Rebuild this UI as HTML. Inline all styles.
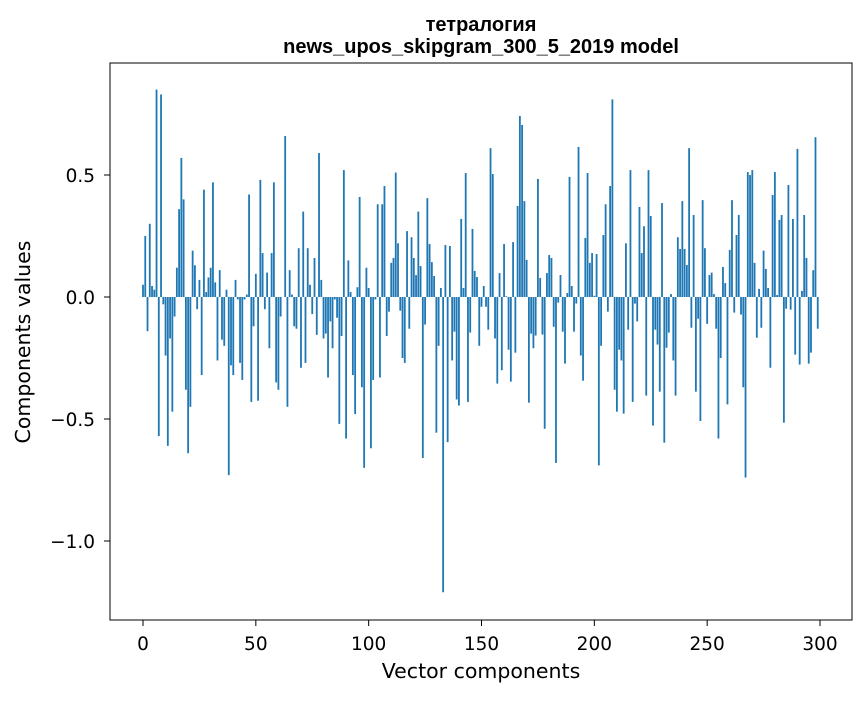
<!DOCTYPE html>
<html><head><meta charset="utf-8"><style>
body{margin:0;background:#fff;}
svg text{font-family:"DejaVu Sans","Liberation Sans",sans-serif;fill:#000;}
svg text.ttl{font-family:"Liberation Sans","DejaVu Sans",sans-serif;}
</style></head><body>
<svg id="chart" width="867" height="696" xmlns="http://www.w3.org/2000/svg">
<rect width="867" height="696" fill="#fff"/>
<text class="ttl" x="481" y="31" text-anchor="middle" font-size="20" font-weight="bold">тетралогия</text>
<text class="ttl" x="481" y="53" text-anchor="middle" font-size="20" font-weight="bold">news_upos_skipgram_300_5_2019 model</text>
<g id="bars"></g>
<g id="axes"></g>
<rect x="110" y="63" width="742" height="557" fill="none" stroke="#000" stroke-width="1"/>
<text x="481" y="678" text-anchor="middle" font-size="20.5">Vector components</text>
<text transform="translate(30,342) rotate(-90)" text-anchor="middle" font-size="20.5">Components values</text>
</svg>
<script>
const values=[0.05,0.25,-0.14,0.30,0.045,0.03,0.85,-0.57,0.83,-0.03,-0.24,-0.61,-0.17,-0.47,-0.08,0.12,0.36,0.57,0.40,-0.38,-0.64,-0.45,0.19,0.13,-0.05,0.07,-0.32,0.44,0.02,0.08,0.12,0.47,0.06,-0.26,0.11,-0.175,-0.2,0.03,-0.73,-0.28,-0.32,0.07,-0.01,-0.27,-0.34,-0.01,0.01,0.42,-0.43,-0.12,
0.095,-0.425,0.48,0.18,-0.05,0.1,-0.21,0.18,0.47,-0.35,-0.38,-0.08,0,0.66,-0.45,0.11,0.01,-0.12,-0.13,0.2,-0.29,0.35,-0.27,0.2,0.05,-0.07,0.16,-0.155,0.59,0.07,-0.17,-0.15,-0.33,-0.1,-0.21,-0.01,-0.085,-0.52,-0.16,0.52,-0.58,0.15,0.02,-0.32,-0.48,0.04,0.41,-0.37,-0.7,0.12,
0.037,-0.62,-0.34,-0.01,0.38,-0.33,0.38,0.455,-0.16,-0.06,0.14,0.16,0.51,0.22,-0.056,-0.25,-0.27,0.27,-0.13,0.245,0.16,0.09,0.35,0.127,-0.66,-0.113,0.405,0.217,0.143,0.086,-0.556,-0.2,0.037,-1.21,0.213,-0.595,0.209,-0.26,-0.142,-0.42,-0.445,0.32,0.037,0.508,-0.43,-0.146,0.279,0.107,0.082,-0.2,
-0.04,0.045,-0.04,-0.134,0.61,0.504,-0.17,-0.355,0.098,-0.3,0.217,0.003,-0.216,-0.347,0.225,-0.228,0.373,0.742,0.705,0.393,0.152,-0.433,-0.15,-0.21,-0.158,0.484,0.078,-0.154,-0.54,0.098,0.172,0.16,-0.122,-0.68,-0.023,0.09,-0.142,-0.273,0.016,0.492,0.045,-0.142,-0.027,0.615,-0.24,-0.343,0.242,0.508,0.14,0.18,
0.005,0.176,-0.69,-0.2,0.254,0.38,-0.06,0.455,0.81,-0.38,-0.47,-0.216,-0.26,-0.478,0.22,-0.134,0.52,-0.43,-0.027,-0.1,0.369,0.18,0.29,-0.404,0.52,0.332,-0.527,-0.134,-0.195,-0.388,0.385,-0.597,-0.208,-0.146,0.012,-0.26,-0.404,0.245,0.197,0.393,0.197,0.131,0.61,-0.126,0.336,-0.388,-0.089,-0.508,0.397,
0.2,-0.11,0.09,0.1,0.012,-0.13,-0.58,-0.25,0.123,0.057,-0.44,0.193,0.397,-0.064,0.254,0.336,-0.072,-0.37,-0.74,0.512,0.5,0.52,0.14,-0.167,0.033,-0.126,0.19,0.115,0.037,-0.29,0.418,0.512,0.008,0.316,0.336,-0.515,-0.048,0.459,-0.052,0.32,-0.236,0.607,-0.277,0.025,0.336,0.16,-0.273,-0.228,0.11,0.655,-0.13];
const xTicks=[0,50,100,150,200,250,300];
const yTicks=[0.5,0,-0.5,-1.0];
const yTickLabels=["0.5","0.0","\u22120.5","\u22121.0"];
const NS="http://www.w3.org/2000/svg";
function xs(i){return 143+i*(677/300);}
function ys(v){return 297-v*244;}
const bars=document.getElementById('bars');
const bw=0.8*677/300;
values.forEach((v,i)=>{
  const r=document.createElementNS(NS,'rect');
  
  
  const y0=ys(0),y1=ys(v);
  r.setAttribute('x',xs(i)-bw/2);
  r.setAttribute('y',Math.min(y0,y1));
  r.setAttribute('width',bw);
  r.setAttribute('height',Math.abs(y1-y0));
  r.setAttribute('fill','#1f77b4');
  bars.appendChild(r);
});
const axes=document.getElementById('axes');
xTicks.forEach(t=>{
  const x=xs(t);
  const l=document.createElementNS(NS,'line');
  
  
  l.setAttribute('x1',x);l.setAttribute('x2',x);l.setAttribute('y1',620);l.setAttribute('y2',626);
  l.setAttribute('stroke','#000');
  axes.appendChild(l);
  const tx=document.createElementNS(NS,'text');
  
  
  tx.setAttribute('x',x);tx.setAttribute('y',650);tx.setAttribute('text-anchor','middle');tx.setAttribute('font-size','18.5');
  tx.textContent=String(t);
  axes.appendChild(tx);
});
yTicks.forEach((t,k)=>{
  const y=ys(t);
  const l=document.createElementNS(NS,'line');
  
  
  l.setAttribute('x1',104);l.setAttribute('x2',110);l.setAttribute('y1',y);l.setAttribute('y2',y);
  l.setAttribute('stroke','#000');
  axes.appendChild(l);
  const tx=document.createElementNS(NS,'text');
  
  
  tx.setAttribute('x',95);tx.setAttribute('y',y+7);tx.setAttribute('text-anchor','end');tx.setAttribute('font-size','18.5');
  tx.textContent=yTickLabels[k];
  axes.appendChild(tx);
});
</script>
</body></html>
